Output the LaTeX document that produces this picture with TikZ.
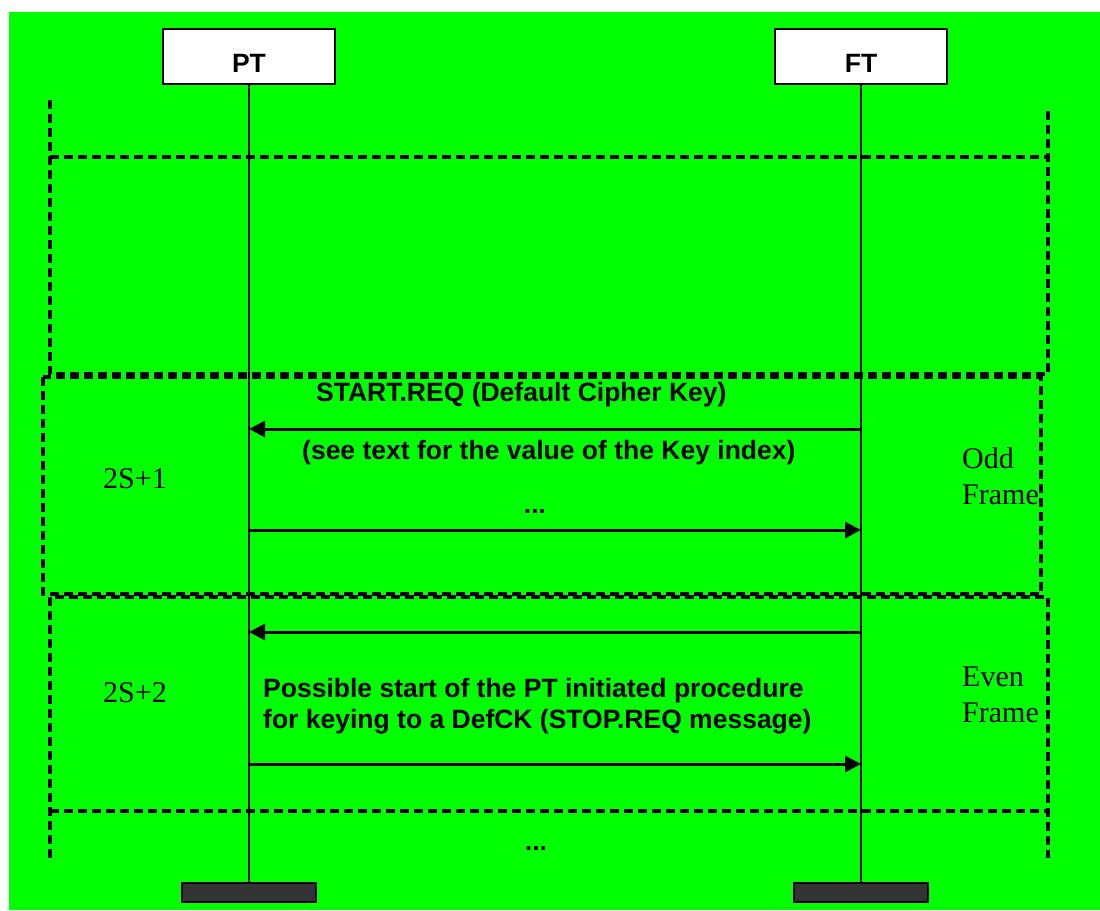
\documentclass[tikz,border=0pt]{standalone}
\usepackage{fontspec}
\setmainfont{Liberation Serif}
\newfontfamily\arialfont{Liberation Sans}
\usetikzlibrary{arrows.meta}

\definecolor{FrameGreen}{HTML}{00FF00}
\definecolor{BarGray}{HTML}{333333}

\tikzset{
  entity/.style={draw=black, line width=2pt, fill=white, inner sep=0pt,
    minimum width=172pt, minimum height=55pt, text height=38pt, text depth=7pt,
    font=\arialfont\bfseries\fontsize{26.5}{30}\selectfont},
  stopbar/.style={draw=black, line width=1.5pt, fill=BarGray, inner sep=0pt,
    minimum width=134pt, minimum height=19pt},
  lifeline/.style={line width=2pt},
  framedash/.style={line width=3.5pt, dash pattern=on 9pt off 5pt},
  msg/.style={line width=3pt, -{Triangle[length=16pt,width=16pt]}},
  msgtxt/.style={anchor=base west, inner sep=0pt,
    font=\arialfont\bfseries\fontsize{26.5}{30}\selectfont},
  frametxt/.style={anchor=base west, inner sep=0pt, font=\fontsize{30}{36}\selectfont}
}

\begin{document}
\begin{tikzpicture}[x=1pt,y=-1pt]

  %–– Columnas de PT y FT ––
  \def\ptX{249}
  \def\ftX{861}

  %–– Bordes de los marcos ––
  \def\outL{50}
  \def\outR{1048}

  \useasboundingbox (0,0) rectangle (1100,910);
  \fill[FrameGreen] (9,12) rectangle (1100,910);

  %–– Entidades y barras finales ––
  \node[entity] (pt) at (\ptX,56.5) {PT};
  \node[entity] (ft) at (\ftX,56.5) {FT};
  \node[stopbar] (ptbar) at (\ptX,892.5) {};
  \node[stopbar] (ftbar) at (\ftX,892.5) {};

  %–– Marcos discontinuos ––
  \draw[framedash] (\outL,100) -- (\outL,374) -- (\outR,374) -- (\outR,108);
  \draw[framedash] (\outL,157) -- (\outR,157);
  \draw[framedash] (43,377) rectangle (1041,594);
  \draw[framedash] (\outL,858) -- (\outL,597) -- (\outR,597) -- (\outR,858);
  \draw[framedash] (\outL,811) -- (\outR,811);

  %–– Líneas de vida ––
  \draw[lifeline] (pt.south) -- (ptbar.north);
  \draw[lifeline] (ft.south) -- (ftbar.north);

  %–– Mensajes ––
  \foreach \i/\y in {1/429, 2/530, 3/632, 4/764}{
    \coordinate (p\i) at (\ptX,\y);
    \coordinate (f\i) at (\ftX,\y);
  }
  \draw[msg] (f1) -- (p1);
  \draw[msg] (p2) -- (f2);
  \draw[msg] (f3) -- (p3);
  \draw[msg] (p4) -- (f4);

  %–– Etiquetas de los mensajes ––
  \node[msgtxt] (startreq) at (316,401) {START.REQ (Default Cipher Key)};
  \node[msgtxt] (keyidx) at (302,459) {(see text for the value of the Key index)};
  \node[msgtxt, anchor=base] (dotsA) at (535,513) {...};
  \node[msgtxt] (stopA) at (263,697) {Possible start of the PT initiated procedure};
  \node[msgtxt] (stopB) at (263,728) {for keying to a DefCK (STOP.REQ message)};
  \node[msgtxt, anchor=base] (dotsB) at (536,850) {...};

  %–– Etiquetas de los marcos ––
  \node[frametxt] (oddnum) at (103,488) {2S+1};
  \node[frametxt] (evennum) at (103,702) {2S+2};
  \foreach \nm/\y/\lbl in {oddA/468/Odd, oddB/504/Frame, evenA/686/Even, evenB/722/Frame}{
    \node[frametxt] (\nm) at (962,\y) {\lbl};
  }

\end{tikzpicture}
\end{document}
